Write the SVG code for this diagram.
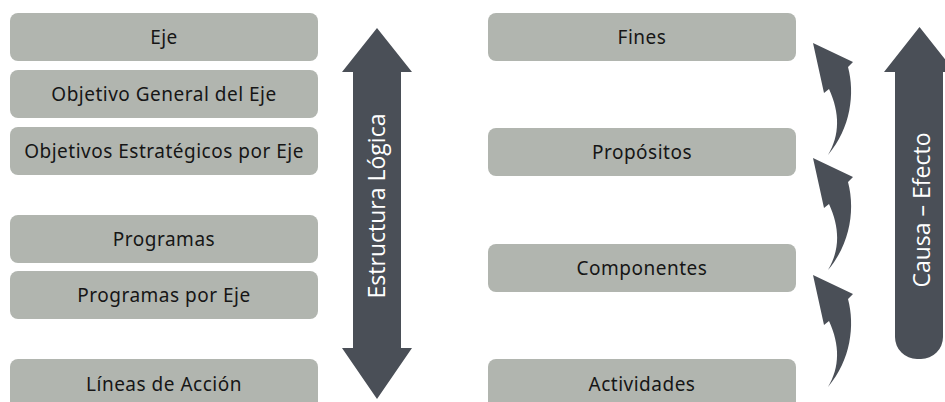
<svg xmlns="http://www.w3.org/2000/svg" width="945" height="402" viewBox="0 0 945 402">
<style>
.box{fill:#b1b5af;}
.lbl{font-family:"Noto Sans","DejaVu Sans",sans-serif;font-size:19px;letter-spacing:0.5px;fill:#161616;text-anchor:middle;}
.dark{fill:#4a4f57;}
.vlbl{font-family:"Open Sans","Noto Sans",sans-serif;font-size:23px;fill:#ffffff;text-anchor:middle;}
</style>
<defs>
<path id="curl" d="M0,0 L40,19 L35,24 C42,50 38,85 15,112 C27,92 27,70 16,46 L11,50 Z"/>
</defs>
<rect width="945" height="402" fill="#ffffff"/>
<g id="n-eje"><rect class="box" x="10" y="13" width="308" height="48" rx="8"/><text class="lbl" x="164" y="44">Eje</text></g>
<g id="n-objgen"><rect class="box" x="10" y="70" width="308" height="48" rx="8"/><text class="lbl" x="164" y="101">Objetivo General del Eje</text></g>
<g id="n-objest"><rect class="box" x="10" y="127" width="308" height="48" rx="8"/><text class="lbl" x="164" y="158">Objetivos Estratégicos por Eje</text></g>
<g id="n-prog"><rect class="box" x="10" y="215" width="308" height="48" rx="8"/><text class="lbl" x="164" y="246">Programas</text></g>
<g id="n-progeje"><rect class="box" x="10" y="271" width="308" height="48" rx="8"/><text class="lbl" x="164" y="302">Programas por Eje</text></g>
<g id="n-lineas"><rect class="box" x="10" y="359" width="308" height="60" rx="8"/><text class="lbl" x="164" y="391">Líneas de Acción</text></g>
<g id="n-fines"><rect class="box" x="488" y="13" width="308" height="48" rx="8"/><text class="lbl" x="642" y="44">Fines</text></g>
<g id="n-prop"><rect class="box" x="488" y="128" width="308" height="48" rx="8"/><text class="lbl" x="642" y="159">Propósitos</text></g>
<g id="n-comp"><rect class="box" x="488" y="244" width="308" height="48" rx="8"/><text class="lbl" x="642" y="275">Componentes</text></g>
<g id="n-act"><rect class="box" x="488" y="359" width="308" height="60" rx="8"/><text class="lbl" x="642" y="391">Actividades</text></g>
<g id="connectors">
<g id="estructura">
<path class="dark" d="M377,28 L412,72 L401,72 L401,348 L412,348 L377,399 L342,348 L353,348 L353,72 L342,72 Z"/>
<text class="vlbl" transform="translate(385,206) rotate(-90)">Estructura Lógica</text>
</g>
<g id="causa">
<path class="dark" d="M919.5,27 L955,72 L943,72 L943,337 A22,22 0 0 1 921,359 L917,359 A22,22 0 0 1 895,337 L895,72 L884,72 Z"/>
<text class="vlbl" transform="translate(930,210) rotate(-90)">Causa – Efecto</text>
</g>
<use class="dark" href="#curl" x="813" y="43"/>
<use class="dark" href="#curl" x="813" y="158"/>
<use class="dark" href="#curl" x="813" y="275"/>
</g>
</svg>
